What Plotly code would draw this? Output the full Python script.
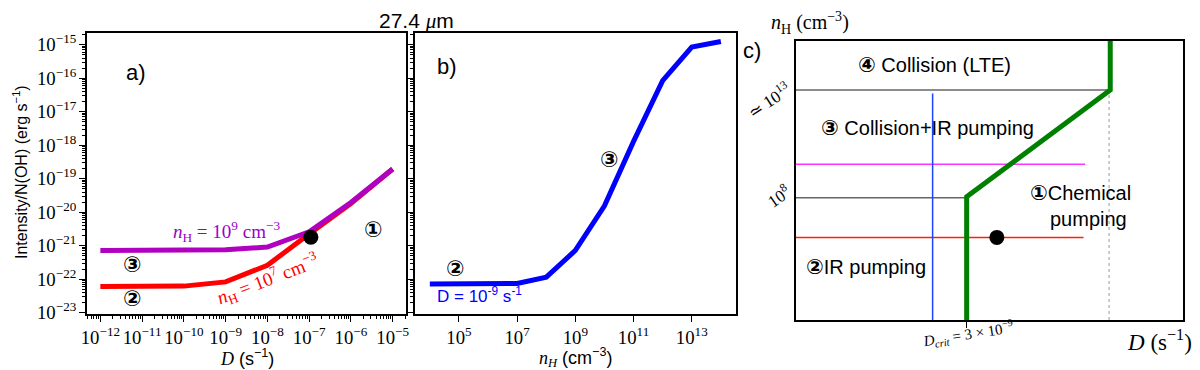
import plotly.graph_objects as go

# ---- panel a: intensity vs dissociation rate D ----
D_RATE = [1e-12, 1e-11, 1e-10, 1e-9, 1e-8, 1e-7, 1e-6, 1e-5]
I_NH9 = [7.2e-22, 7.2e-22, 7.3e-22, 7.6e-22, 9.1e-22, 2.6e-21, 1.95e-20, 1.95e-19]
I_NH7 = [6.0e-23, 6.0e-23, 6.2e-23, 8.3e-23, 2.6e-22, 2.25e-21, 1.8e-20, 1.95e-19]
DOT_A = [1.1e-7, 1.8e-21]

# ---- panel b: intensity vs density at D = 1e-9 ----
N_H = [1e4, 1e5, 1e6, 1e7, 1e8, 1e9, 1e10, 1e11, 1e12, 1e13, 1e14]
I_D9 = [7.2e-23, 7.2e-23, 7.2e-23, 7.4e-23, 1.15e-22, 7.2e-22, 1.55e-20, 1.3e-18, 8.5e-17, 8.5e-16, 1.25e-15]

# ---- panel c: schematic regime diagram (arbitrary units 0..10) ----
GREEN_X = [4.41, 4.41, 8.12, 8.12]
GREEN_Y = [0, 4.42, 8.24, 10]
GRAY_HI = ([0, 8.12], [8.24, 8.24])
GRAY_LO = ([0, 4.41], [4.38, 4.38])
MAGENTA = ([0, 7.47], [5.58, 5.58])
RED_C = ([0, 7.43], [2.96, 2.96])
BLUE_C = ([3.53, 3.53], [0, 8.12])
DOTTED = ([8.09, 8.09], [0, 8.24])
DOT_C = [5.19, 2.96]
D_CRIT = 4.41

SERIF = "Liberation Serif"
SANS = "Liberation Sans"
CIRC = "DejaVu Sans"
# the page body has an 8px margin, so the figure is sized to fit inside the window
OFF = 8
W, H = 1200 - OFF, 370 - OFF


def px(x):
    return (x - OFF) / W


def py(y):
    return 1 - (y - OFF) / H


def ital(s):
    return f"<span style='font-family:{SERIF}'><i>{s}</i></span>"


def circ(n, size=21):
    return f"<span style='font-family:{CIRC};font-size:{size}px'><b>{n}</b></span>"


fig = go.Figure()

# red first so the purple curve sits on top where they merge
fig.add_trace(go.Scatter(x=D_RATE, y=I_NH7, mode="lines", line=dict(color="#FF0000", width=5),
                         xaxis="x", yaxis="y"))
fig.add_trace(go.Scatter(x=D_RATE, y=I_NH9, mode="lines", line=dict(color="#B000C0", width=5),
                         xaxis="x", yaxis="y"))
fig.add_trace(go.Scatter(x=[DOT_A[0]], y=[DOT_A[1]], mode="markers",
                         marker=dict(color="black", size=15), xaxis="x", yaxis="y"))

fig.add_trace(go.Scatter(x=N_H, y=I_D9, mode="lines", line=dict(color="#0000FF", width=5),
                         xaxis="x2", yaxis="y2"))

for (xs, ys), col, w, dash in [
    (GRAY_HI, "#666666", 1.5, "solid"),
    (GRAY_LO, "#666666", 1.5, "solid"),
    (MAGENTA, "#FF33FF", 1.5, "solid"),
    (RED_C, "#FF2200", 1.5, "solid"),
    (BLUE_C, "#1A44FF", 1.5, "solid"),
    (DOTTED, "#999999", 1, "dot"),
]:
    fig.add_trace(go.Scatter(x=xs, y=ys, mode="lines", line=dict(color=col, width=w, dash=dash),
                             xaxis="x3", yaxis="y3"))
fig.add_trace(go.Scatter(x=GREEN_X, y=GREEN_Y, mode="lines", line=dict(color="#008000", width=5),
                         xaxis="x3", yaxis="y3"))
fig.add_trace(go.Scatter(x=[DOT_C[0]], y=[DOT_C[1]], mode="markers",
                         marker=dict(color="black", size=15), xaxis="x3", yaxis="y3"))

frame = dict(showline=True, linecolor="black", linewidth=1.5, mirror=True, showgrid=False,
             zeroline=False, ticks="outside", tickcolor="black", automargin=False)
log_minor = dict(ticks="outside", ticklen=3, tickcolor="black", dtick="D1", showgrid=False)
tickfont = dict(family=SERIF, size=15, color="black")

fig.update_layout(
    width=W, height=H, margin=dict(l=0, r=0, t=0, b=0, pad=0),
    paper_bgcolor="white", plot_bgcolor="white", showlegend=False,
    xaxis=dict(frame, type="log", domain=[px(87), px(406)], range=[-12.32, -4.68], dtick=1,
               exponentformat="power", ticklen=6, minor=log_minor, tickfont=tickfont, anchor="y"),
    yaxis=dict(frame, type="log", domain=[py(314), py(33)], range=[-23.04, -14.65], dtick=1,
               exponentformat="power", ticklen=6, minor=log_minor, tickfont=tickfont, anchor="x"),
    xaxis2=dict(frame, type="log", domain=[px(415), px(736)], range=[3.49, 14.52], dtick=2, tick0=1,
                exponentformat="power", ticklen=6, tickfont=tickfont, anchor="y2"),
    yaxis2=dict(frame, type="log", domain=[py(314), py(33)], range=[-23.04, -14.65], dtick=1,
                showticklabels=False, ticklen=6, minor=log_minor, anchor="x2"),
    xaxis3=dict(frame, range=[0, 10], domain=[px(796), px(1183)], tickvals=[D_CRIT],
                showticklabels=False, ticklen=6, linewidth=2, anchor="y3"),
    yaxis3=dict(frame, range=[0, 10], domain=[py(320), py(41)], ticks="", showticklabels=False,
                linewidth=2, anchor="x3"),
)

ann = []


def add(text, x, y, size, color="black", family=SANS, angle=0, yanchor="middle"):
    ann.append(dict(text=text, x=px(x), y=min(py(y), 1), xref="paper", yref="paper", showarrow=False,
                    xanchor="center", yanchor=yanchor, textangle=angle, borderpad=0,
                    font=dict(family=family, size=size, color=color)))


# title and axis labels
add("27.4 " + ital("μ") + "m", 416, OFF, 21, yanchor="top")
add("Intensity/N(OH) (erg s<sup>−1</sup>)", 20, 172, 16, angle=-90)
add(ital("D") + " (s<sup>−1</sup>)", 247, 357, 18)
add(ital("n<sub>H</sub>") + " (cm<sup>−3</sup>)", 575, 357, 18)

# panel a
add("a)", 136, 72, 22)
add("<i>n</i><sub>H</sub> = 10<sup>9</sup> cm<sup>−3</sup>", 226, 231, 19, color="#9900CC", family=SERIF)
add("<i>n</i><sub>H</sub> = 10<sup>7</sup> cm<sup>−3</sup>", 267, 279, 19, color="#FF0000", family=SERIF,
    angle=-21)
add(circ("①", 22), 373, 229, 20)
add(circ("③", 22), 132, 264, 20)
add(circ("②", 22), 132, 298, 20)

# panel b
add("b)", 447, 67, 22)
add(circ("②", 22), 455, 268, 20)
add(circ("③", 22), 609, 159, 20)
add("D = 10<sup>-9</sup> s<sup>-1</sup>", 479, 295, 17, color="#0000FF")

# panel c
add("c)", 752, 50, 22)
add("<i>n</i><sub>H</sub> (cm<sup>−3</sup>)", 810, 23, 20, family=SERIF)
add(circ("④") + " Collision (LTE)", 934, 65, 20)
add(circ("③") + " Collision+IR pumping", 927, 128, 20)
add(circ("①") + "Chemical", 1080, 193, 20)
add("pumping", 1088, 219, 20)
add(circ("②") + "IR pumping", 866, 267, 20)
add("≃ 10<sup>13</sup>", 768, 100, 17, family=SERIF, angle=-33)
add("10<sup>8</sup>", 778, 196, 17, family=SERIF, angle=-35)
add("<i>D<sub>crit</sub></i> = 3 × 10<sup>−9</sup>", 968, 334, 15, family=SERIF, angle=-9)
add("<i>D</i> (s<sup>−1</sup>)", 1159, 340, 23, family=SERIF)

fig.update_layout(annotations=ann)

fig.write_html("out.html")
